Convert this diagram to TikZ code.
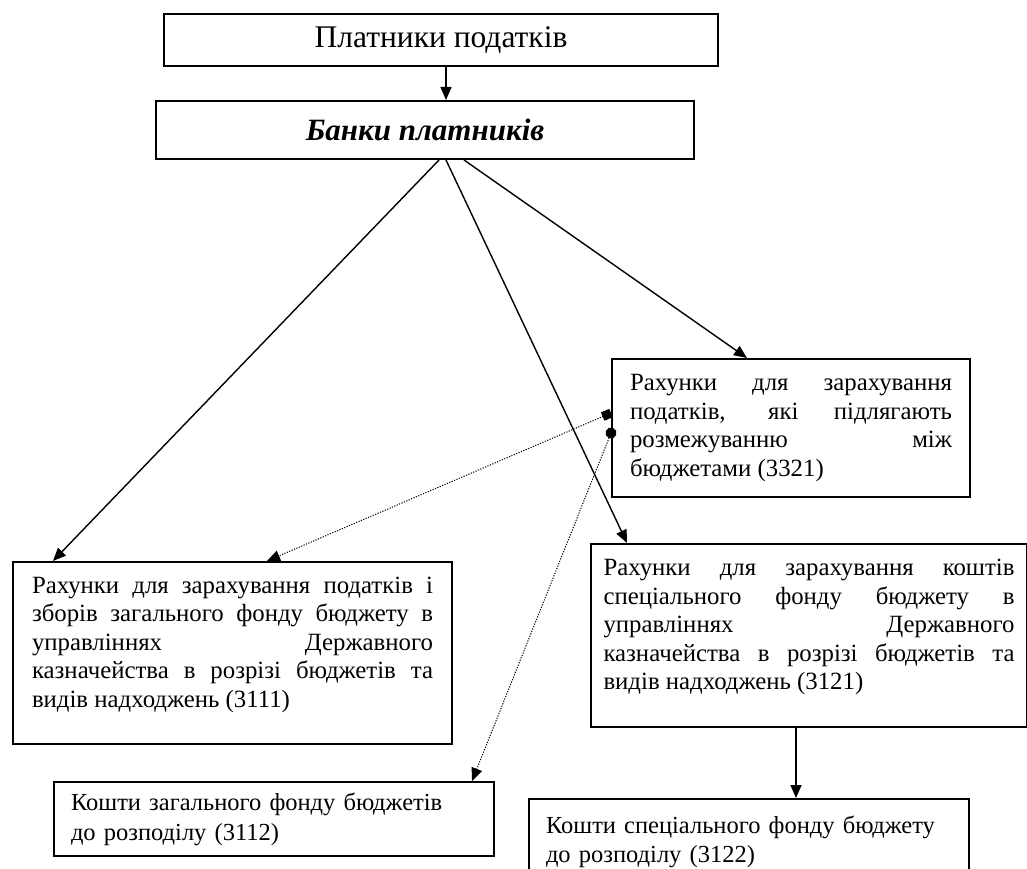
\documentclass[tikz,border=0pt]{standalone}
\usepackage{fontspec}
\setmainfont{Liberation Serif}
\usepackage{tikz}
\usetikzlibrary{arrows.meta, positioning, calc}
\tikzstyle{block} = [rectangle, draw=black, line width=2pt, anchor=north west, inner sep=0pt, font=\fontsize{24.8}{28.5}\selectfont]
\tikzstyle{arrow} = [line width=1.4pt, -{Triangle[length=13pt,width=11pt]}]
\tikzstyle{dotline} = [line width=1pt, dash pattern=on 1.2pt off 1.4pt]

\begin{document}
\begin{tikzpicture}[x=1pt, y=-1pt]
    \useasboundingbox (0,0) rectangle (1027,869);
    \node[block, minimum width=554pt, minimum height=52pt, font=\fontsize{31.5}{36}\selectfont] (payers) at (163,13) {Платники податків};
    \node[block, minimum width=538pt, minimum height=58pt, font=\fontsize{31}{36}\selectfont\bfseries\itshape] (banks) at (155,100) {Банки платників};
    \node[block, minimum width=358pt, minimum height=138pt, text width=322pt, align=justify] (split) at (611,358) {Рахунки для зарахування\linebreak податків, які підлягають\linebreak розмежуванню між\linebreak бюджетами (3321)};
    \node[block, minimum width=439pt, minimum height=182pt] (general) at (12,561) {\parbox[c][152pt][t]{401pt}{Рахунки для зарахування податків і\linebreak зборів загального фонду бюджету в\linebreak управліннях Державного\linebreak казначейства в розрізі бюджетів та\linebreak видів надходжень (3111)}};
    \node[block, minimum width=436pt, minimum height=183pt] (special) at (590,543) {\parbox[c][152pt][t]{411pt}{Рахунки для зарахування коштів\linebreak спеціального фонду бюджету в\linebreak управліннях Державного\linebreak казначейства в розрізі бюджетів та\linebreak видів надходжень (3121)}};
    \node[block, minimum width=440pt, minimum height=74pt, text width=406pt, align=left, font=\fontsize{24.5}{30}\selectfont] (generaldist) at (53,781) {Кошти загального фонду бюджетів\\до розподілу (3112)};
    \node[block, minimum width=440pt, minimum height=86pt, text width=406pt, align=left, font=\fontsize{24.5}{28.5}\selectfont] (specialdist) at (528,798) {Кошти спеціального фонду бюджету\\до розподілу (3122)};

    \draw[arrow] ([xshift=5pt]payers.south) -- ([xshift=5pt]payers.south |- banks.north);
    \draw[arrow] ([xshift=14pt]banks.south) -- ([xshift=41pt]general.north west);
    \draw[arrow] ([xshift=21pt]banks.south) -- ([xshift=37pt]special.north west);
    \draw[arrow] ([xshift=39pt]banks.south) -- ([xshift=136pt]split.north west);
    \draw[arrow] ([xshift=-13pt]special.south) -- ([xshift=-13pt]special.south |- specialdist.north);
    \draw[dotline, {Square[length=9pt,width=9pt]}-{Triangle[length=13pt,width=11pt]}] ([yshift=15pt]split.west) -- ([xshift=255pt]general.north west);
    \draw[dotline, {Circle[length=11pt]}-{Triangle[length=13pt,width=11pt]}, shorten <=-5.5pt] ([yshift=-5pt]split.west) -- ([xshift=-23pt]generaldist.north east);
\end{tikzpicture}
\end{document}
